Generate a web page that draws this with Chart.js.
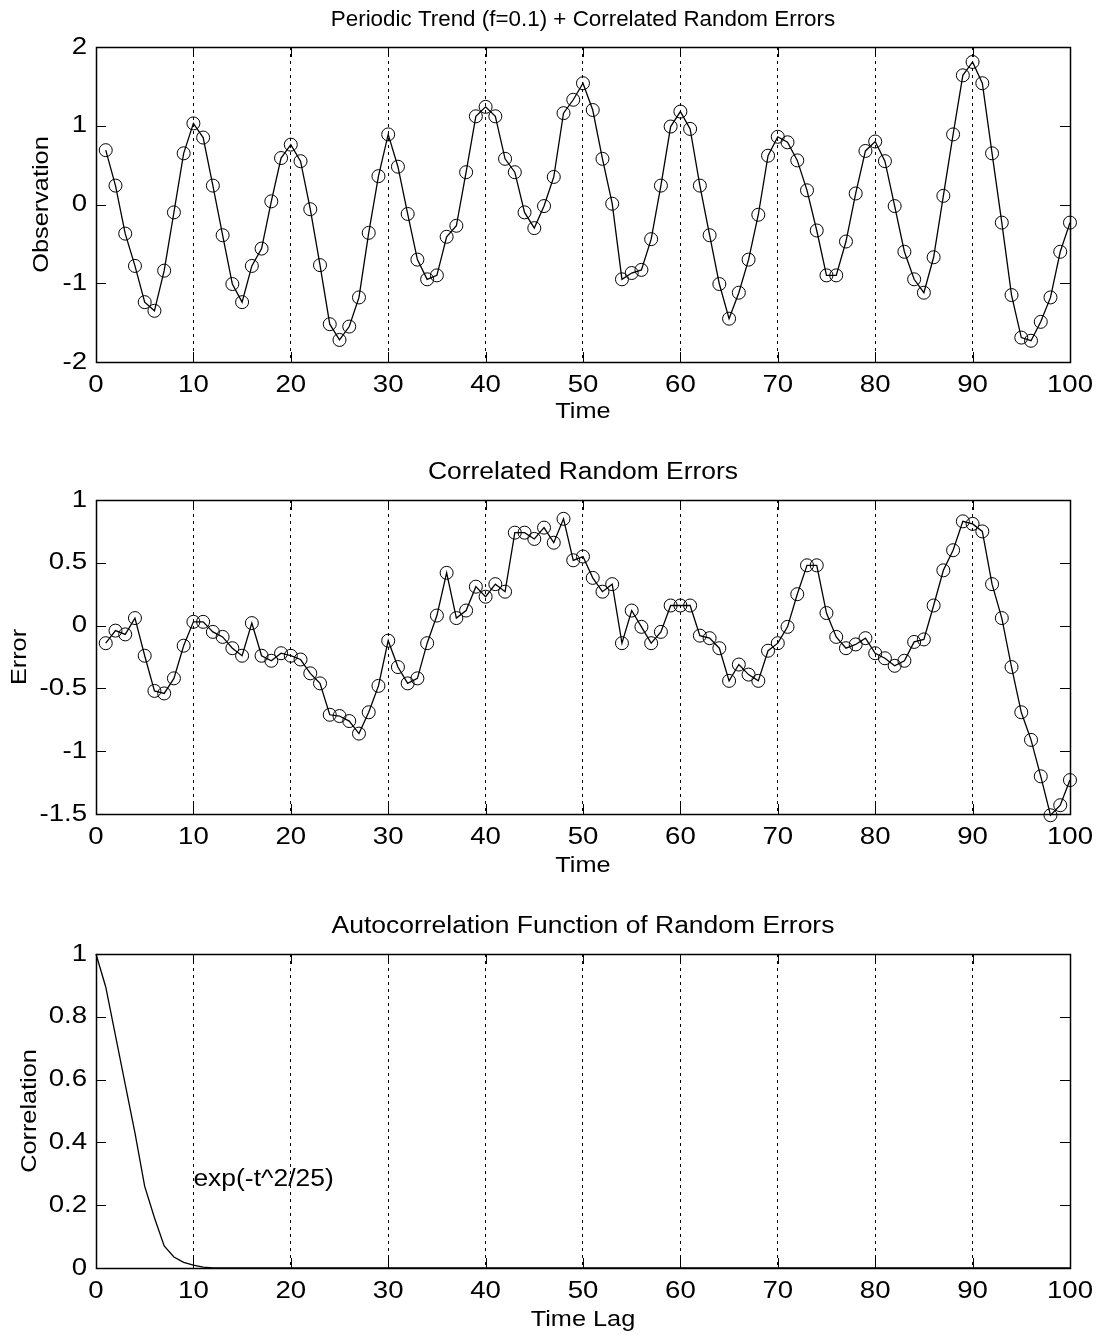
<!DOCTYPE html>
<html>
<head>
<meta charset="utf-8">
<title>Periodic Trend + Correlated Random Errors</title>
<script src="https://cdn.jsdelivr.net/npm/chart.js@4.4.1/dist/chart.umd.min.js"></script>
<style>
  html, body { margin: 0; padding: 0; background: #fff; }
  #wrap { position: relative; width: 1099px; height: 1335px; }
  canvas { position: absolute; left: 0; }
</style>
</head>
<body>
<div id="wrap">
  <canvas id="obsChart" width="1099" height="440" style="top:0px"></canvas>
  <canvas id="errChart" width="1099" height="450" style="top:440px"></canvas>
  <canvas id="acfChart" width="1099" height="445" style="top:890px"></canvas>
</div>
<script>
// time index for the two upper panels
const time = [1,2,3,4,5,6,7,8,9,10,11,12,13,14,15,16,17,18,19,20,21,22,23,24,25,26,27,28,29,30,
  31,32,33,34,35,36,37,38,39,40,41,42,43,44,45,46,47,48,49,50,51,52,53,54,55,56,57,58,59,60,
  61,62,63,64,65,66,67,68,69,70,71,72,73,74,75,76,77,78,79,80,81,82,83,84,85,86,87,88,89,90,
  91,92,93,94,95,96,97,98,99,100];

// observations (trend + errors)
const observation = [0.69,0.24,-0.37,-0.78,-1.24,-1.35,-0.84,-0.10,0.65,1.03,
  0.85,0.24,-0.39,-1.01,-1.24,-0.78,-0.56,0.04,0.59,0.76,
  0.55,-0.06,-0.77,-1.52,-1.72,-1.55,-1.18,-0.36,0.36,0.89,
  0.48,-0.12,-0.70,-0.95,-0.90,-0.41,-0.27,0.41,1.12,1.24,
  1.12,0.58,0.41,-0.10,-0.30,-0.02,0.35,1.16,1.33,1.54,
  1.20,0.58,0.01,-0.95,-0.87,-0.83,-0.44,0.24,0.99,1.18,
  0.96,0.24,-0.39,-1.01,-1.45,-1.12,-0.70,-0.13,0.62,0.86,
  0.79,0.56,0.18,-0.33,-0.90,-0.90,-0.47,0.14,0.68,0.80,
  0.55,-0.02,-0.60,-0.95,-1.12,-0.67,0.11,0.89,1.64,1.81,
  1.54,0.65,-0.23,-1.15,-1.69,-1.73,-1.49,-1.18,-0.60,-0.23];

// correlated random errors
const error = [-0.14,-0.04,-0.07,0.06,-0.24,-0.52,-0.54,-0.42,-0.16,0.03,
  0.03,-0.05,-0.09,-0.18,-0.24,0.02,-0.24,-0.28,-0.22,-0.24,
  -0.27,-0.38,-0.46,-0.71,-0.72,-0.76,-0.86,-0.69,-0.48,-0.12,
  -0.33,-0.46,-0.42,-0.14,0.08,0.42,0.06,0.12,0.31,0.23,
  0.33,0.27,0.74,0.74,0.69,0.78,0.66,0.85,0.52,0.55,
  0.38,0.27,0.33,-0.14,0.12,-0.01,-0.14,-0.05,0.16,0.16,
  0.16,-0.08,-0.10,-0.18,-0.44,-0.31,-0.39,-0.44,-0.20,-0.14,
  -0.01,0.25,0.48,0.48,0.10,-0.09,-0.18,-0.15,-0.10,-0.22,
  -0.26,-0.32,-0.28,-0.13,-0.11,0.16,0.44,0.60,0.83,0.81,
  0.75,0.33,0.06,-0.33,-0.69,-0.91,-1.20,-1.51,-1.43,-1.23];

// autocorrelation function
const lag = [0,1,2,3,4,5,6,7,8,9,10,11,12,13,14,15,16,17,18,19,20,21,22,23,24,25,26,27,28,29,30,
  31,32,33,34,35,36,37,38,39,40,41,42,43,44,45,46,47,48,49,50,51,52,53,54,55,56,57,58,59,60,
  61,62,63,64,65,66,67,68,69,70,71,72,73,74,75,76,77,78,79,80,81,82,83,84,85,86,87,88,89,90,
  91,92,93,94,95,96,97,98,99,100];
const correlation = [1.0,0.895,0.74,0.585,0.43,0.26,0.16,0.07,0.035,0.018,0.009,0.003,
  0,0,0,0,0,0,0,0,0,0,0,0,0,0,0,0,0,0,0,0,0,0,0,0,0,0,0,0,0,0,0,0,0,0,0,0,0,0,
  0,0,0,0,0,0,0,0,0,0,0,0,0,0,0,0,0,0,0,0,0,0,0,0,0,0,0,0,0,0,0,0,0,0,0,0,0,0,
  0,0,0,0,0,0,0,0,0,0,0,0,0];

const xTicks = [0,10,20,30,40,50,60,70,80,90,100];

const FONT = "'Liberation Sans', Arial, Helvetica, sans-serif";
const TEXT_STRETCH = 1.15;   // the original lettering is a bit wider than Arial
Chart.defaults.font.family = FONT;
Chart.defaults.color = "#000";

function toPoints(xs, ys) {
  return xs.map((x, i) => ({ x: x, y: ys[i] }));
}

// widen every text draw horizontally around its anchor point
function stretchText(ctx, sx) {
  const fill = ctx.fillText.bind(ctx);
  ctx.fillTextPlain = fill;
  ctx.fillText = function (text, x, y) {
    ctx.save();
    ctx.translate(x, y);
    ctx.scale(sx, 1);
    fill(text, 0, 0);
    ctx.restore();
  };
}

// box around the plot with inward ticks on all four sides, plus the title
const boxPlugin = {
  id: "box",
  afterDraw(chart, args, opts) {
    const { ctx, chartArea: a, scales } = chart;
    const len = 10;
    ctx.save();
    ctx.strokeStyle = "#000";
    ctx.lineWidth = 1;
    ctx.beginPath();
    scales.x.ticks.forEach(t => {
      const px = Math.round(scales.x.getPixelForValue(t.value)) + 0.5;
      ctx.moveTo(px, a.bottom); ctx.lineTo(px, a.bottom - len);
      ctx.moveTo(px, a.top); ctx.lineTo(px, a.top + len);
    });
    scales.y.ticks.forEach(t => {
      const py = Math.round(scales.y.getPixelForValue(t.value)) + 0.5;
      ctx.moveTo(a.left, py); ctx.lineTo(a.left + len, py);
      ctx.moveTo(a.right, py); ctx.lineTo(a.right - len, py);
    });
    ctx.stroke();
    ctx.lineWidth = 1.5;
    ctx.strokeRect(Math.round(a.left) + 0.5, Math.round(a.top) + 0.5,
      Math.round(a.right - a.left), Math.round(a.bottom - a.top));

    // title centred over the plot area
    ctx.fillStyle = "#000";
    ctx.font = opts.titleSize + "px " + FONT;
    ctx.textAlign = "center";
    ctx.textBaseline = "middle";
    const draw = opts.titlePlain ? ctx.fillTextPlain : ctx.fillText;
    draw(opts.title, (a.left + a.right) / 2, opts.titleY);
    ctx.restore();
  }
};

// text label on the autocorrelation panel
const labelPlugin = {
  id: "expLabel",
  afterDraw(chart) {
    const { ctx, scales } = chart;
    ctx.save();
    ctx.fillStyle = "#000";
    ctx.font = "23px " + FONT;
    ctx.textAlign = "left";
    ctx.textBaseline = "middle";
    ctx.fillText("exp(-t^2/25)", scales.x.getPixelForValue(10), scales.y.getPixelForValue(0.28));
    ctx.restore();
  }
};

function makePanel(id, cfg) {
  const canvas = document.getElementById(id);
  const ctx = canvas.getContext("2d");
  stretchText(ctx, TEXT_STRETCH);
  const ds = {
    data: toPoints(cfg.xs, cfg.ys),
    showLine: true,
    borderColor: "#000",
    borderWidth: 1.3,
    tension: 0,
    clip: false,
    pointRadius: cfg.markers ? 6.5 : 0,
    pointBorderWidth: 1,
    pointBorderColor: "#000",
    pointBackgroundColor: "rgba(0,0,0,0)"
  };
  return new Chart(ctx, {
    type: "scatter",
    data: { datasets: [ds] },
    plugins: cfg.extra ? [boxPlugin, cfg.extra] : [boxPlugin],
    options: {
      responsive: false,
      animation: false,
      devicePixelRatio: 1,
      layout: { padding: { left: 0, right: 29, top: cfg.top, bottom: 0 } },
      plugins: {
        legend: { display: false },
        tooltip: { enabled: false },
        title: { display: false },
        box: { title: cfg.title, titleY: cfg.titleY, titleSize: cfg.titleSize, titlePlain: !!cfg.titlePlain }
      },
      scales: {
        x: {
          type: "linear",
          min: 0, max: 100,
          afterBuildTicks: s => { s.ticks = xTicks.map(v => ({ value: v })); },
          ticks: { font: { size: 24 }, padding: 9, color: "#000" },
          grid: {
            drawTicks: false,
            lineWidth: 1,
            color: c => (c.tick && (c.tick.value === 0 || c.tick.value === 100)) ? "rgba(0,0,0,0)" : "#000"
          },
          border: { display: false, dash: [3, 4] },
          title: { display: true, text: cfg.xLabel, font: { size: 22 }, color: "#000", padding: { top: 0, bottom: cfg.xTitlePad } },
          afterFit: s => { s.height = cfg.xHeight; }
        },
        y: {
          type: "linear",
          min: cfg.yMin, max: cfg.yMax,
          afterBuildTicks: s => { s.ticks = cfg.yTicks.map(v => ({ value: v })); },
          ticks: { font: { size: 24 }, padding: 9, color: "#000", callback: v => String(v) },
          grid: { display: false, drawTicks: false },
          border: { display: false },
          title: { display: true, text: cfg.yLabel, font: { size: 22 }, color: "#000", padding: { top: cfg.yTitlePad, bottom: 0 } },
          afterFit: s => { s.width = 96; }
        }
      }
    }
  });
}

makePanel("obsChart", {
  xs: time, ys: observation, markers: true,
  title: "Periodic Trend (f=0.1) + Correlated Random Errors",
  titleSize: 22.4, titlePlain: true, top: 47, titleY: 20,
  xLabel: "Time", xHeight: 78, xTitlePad: 15,
  yLabel: "Observation", yTitlePad: 29,
  yMin: -2, yMax: 2, yTicks: [-2, -1, 0, 1, 2]
});

makePanel("errChart", {
  xs: time, ys: error, markers: true,
  title: "Correlated Random Errors",
  titleSize: 23, top: 60, titleY: 33,
  xLabel: "Time", xHeight: 76, xTitlePad: 11,
  yLabel: "Error", yTitlePad: 7,
  yMin: -1.5, yMax: 1, yTicks: [-1.5, -1, -0.5, 0, 0.5, 1]
});

makePanel("acfChart", {
  xs: lag, ys: correlation, markers: false, extra: labelPlugin,
  title: "Autocorrelation Function of Random Errors",
  titleSize: 23, top: 64, titleY: 37,
  xLabel: "Time Lag", xHeight: 67, xTitlePad: 2,
  yLabel: "Correlation", yTitlePad: 17,
  yMin: 0, yMax: 1, yTicks: [0, 0.2, 0.4, 0.6, 0.8, 1]
});
</script>
</body>
</html>
